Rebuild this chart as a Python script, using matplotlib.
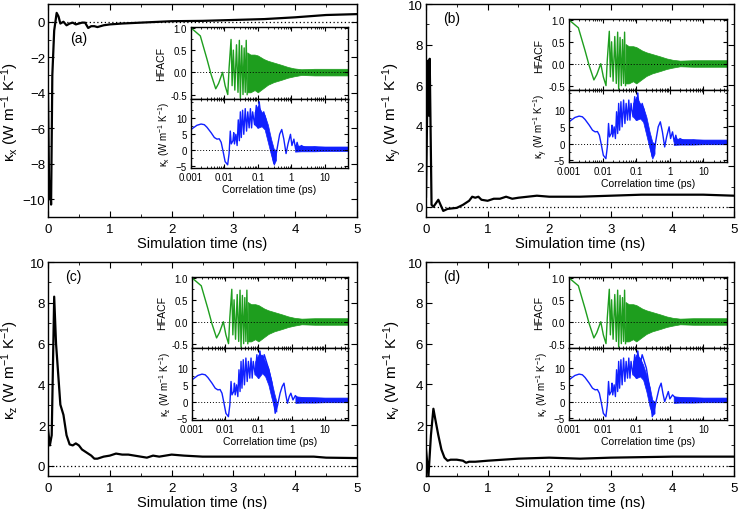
import numpy as np
import matplotlib.pyplot as plt
from matplotlib.ticker import MultipleLocator, LogLocator, NullFormatter, FixedLocator

plt.rcParams['font.family'] = ['Liberation Sans', 'DejaVu Sans']
plt.rcParams['mathtext.default'] = 'regular'

W, H = 740, 510

# ---------------- main curves: simulation time (ns) vs kappa ----------------
ta = [0.0, 0.02, 0.035, 0.05, 0.07, 0.1, 0.14, 0.17, 0.2, 0.25, 0.3, 0.35, 0.4, 0.45, 0.5,
      0.55, 0.6, 0.65, 0.7, 0.75, 0.8, 0.9, 1.0, 1.2, 1.5, 2.0, 2.5, 3.0, 3.5, 4.0, 4.5, 5.0]
ka = [-4.0, -10.0, -9.0, -10.3, -3.0, -0.5, 0.5, 0.3, -0.1, 0.0, -0.2, -0.1, -0.05, -0.15, -0.1,
      -0.05, -0.05, -0.35, -0.25, -0.25, -0.3, -0.2, -0.15, -0.1, -0.05, 0.03, 0.05, 0.1, 0.15, 0.25, 0.38, 0.43]

tb = [0.0, 0.03, 0.045, 0.06, 0.09, 0.12, 0.2, 0.28, 0.35, 0.5, 0.6, 0.7, 0.75, 0.8, 0.85, 0.9,
      1.0, 1.1, 1.2, 1.3, 1.4, 1.5, 1.8, 2.0, 2.5, 3.0, 3.5, 4.0, 4.5, 5.0]
kb = [0.5, 7.2, 4.5, 7.3, 0.1, 0.0, 0.35, -0.2, -0.1, -0.05, 0.1, 0.3, 0.5, 0.45, 0.5, 0.35,
      0.3, 0.4, 0.4, 0.5, 0.4, 0.45, 0.55, 0.5, 0.5, 0.55, 0.6, 0.6, 0.6, 0.55]

tc = [0.0, 0.03, 0.06, 0.1, 0.13, 0.2, 0.25, 0.3, 0.35, 0.4, 0.45, 0.5, 0.55, 0.6, 0.7, 0.75,
      0.8, 0.9, 1.0, 1.1, 1.2, 1.3, 1.4, 1.5, 1.6, 1.7, 1.8, 1.9, 2.0, 2.2, 2.5, 3.0, 3.5, 4.0, 4.3, 4.5, 5.0]
kc = [1.8, 1.0, 1.5, 8.3, 6.0, 3.0, 2.5, 1.5, 1.05, 1.0, 1.1, 1.0, 0.8, 0.7, 0.5, 0.35,
      0.35, 0.45, 0.5, 0.6, 0.55, 0.55, 0.5, 0.45, 0.4, 0.5, 0.45, 0.5, 0.55, 0.5, 0.45, 0.45, 0.45, 0.45, 0.45, 0.4, 0.38]

td = [0.0, 0.04, 0.08, 0.12, 0.15, 0.2, 0.25, 0.3, 0.35, 0.4, 0.5, 0.6, 0.65, 0.7, 0.8,
      1.0, 1.5, 2.0, 2.5, 3.0, 4.0, 5.0]
kd = [0.8, -0.5, 1.5, 2.8, 2.3, 1.5, 0.8, 0.4, 0.25, 0.3, 0.3, 0.25, 0.15, 0.2, 0.2,
      0.25, 0.35, 0.4, 0.35, 0.4, 0.45, 0.45]

# ---------------- inset: HFACF vs correlation time (ps) ----------------
hf_t = [0.001, 0.0019, 0.003, 0.004, 0.0055, 0.0067, 0.0088, 0.0105, 0.0126, 0.0138, 0.0158,
        0.017, 0.0185, 0.0205, 0.023, 0.0255, 0.028, 0.030, 0.033, 0.036, 0.039, 0.042, 0.045, 0.048]
hf_v = [1.0, 0.82, 0.3, -0.05, -0.37, -0.25, 0.0, -0.3, -0.5, 0.1, 0.74,
        -0.3, 0.5, -0.4, 0.62, -0.45, 0.72, -0.58, 0.6, -0.5, 0.55, -0.45, 0.72, -0.5]
hf_band_t = [0.048, 0.06, 0.08, 0.1, 0.15, 0.2, 0.3, 0.5, 0.8, 1.2, 2.0, 5.0, 10.0, 50.0]
hf_band_hi = [0.45, 0.4, 0.4, 0.38, 0.3, 0.26, 0.22, 0.17, 0.12, 0.09, 0.07, 0.08, 0.08, 0.08]
hf_band_lo = [-0.45, -0.45, -0.4, -0.45, -0.35, -0.28, -0.22, -0.17, -0.12, -0.09, -0.06, -0.07, -0.07, -0.07]

# ---------------- inset: running kappa vs correlation time (ps) ----------------
ke_t = [0.001, 0.0015, 0.002, 0.0025, 0.003, 0.004, 0.005, 0.006, 0.007, 0.008, 0.009, 0.0105,
        0.0125, 0.0138, 0.015, 0.016, 0.018, 0.019, 0.020, 0.022, 0.024, 0.026, 0.028, 0.030,
        0.032, 0.035, 0.038, 0.042, 0.046, 0.05, 0.055, 0.06, 0.065, 0.07, 0.08, 0.09, 0.10, 0.11]
ke_v = [6.5, 7.8, 8.2, 8.0, 7.2, 5.5, 4.0, 3.5, 3.6, 2.5, 0.0, -3.5,
        -4.5, -1.0, 6.0, 2.0, 3.0, 5.5, 2.0, 5.0, 1.5, 9.5, 3.0, 12.0,
        4.0, 12.5, 5.0, 13.0, 6.0, 12.0, 7.0, 13.0, 7.0, 12.0, 8.0, 14.0, 7.0, 15.0]

kab_t = [0.11, 0.13, 0.15, 0.17, 0.2, 0.25, 0.3, 0.35, 0.4, 0.45, 0.52, 0.6, 0.7, 0.8, 0.95,
         1.05, 1.2, 1.35, 1.5, 1.7, 2.0, 3.0, 5.0, 10.0, 50.0]
kab_v = [15.0, 9.0, 12.0, 10.0, 6.0, 1.0, -4.0, -1.5, 2.0, 5.0, 6.5, 3.5, -1.0, 2.0, 5.0,
         1.5, 3.5, 0.5, 2.5, 0.3, 1.5, 0.5, 1.0, 0.5, 0.5]
kab_band_t = [0.08, 0.1, 0.13, 0.16, 0.2, 0.25, 0.3, 0.35]
kab_band_hi = [12.0, 14.0, 12.0, 11.0, 8.0, 3.5, 0.5, 0.0]
kab_band_lo = [8.0, 7.0, 7.5, 6.5, 2.5, -1.5, -4.5, -3.0]

kc_t = [0.11, 0.13, 0.15, 0.2, 0.25, 0.32, 0.38, 0.45, 0.52, 0.59, 0.67, 0.75, 0.85, 0.95,
        1.1, 1.3, 1.6, 2.0, 5.0, 10.0, 50.0]
kc_v = [15.0, 11.0, 14.0, 10.0, 6.0, -3.5, -1.0, 2.5, 4.5, 5.5, 2.0, -0.5, 1.5, 2.5,
        0.5, 1.8, 0.8, 1.0, 0.6, 0.5, 0.5]
kc_band_t = [0.08, 0.1, 0.13, 0.16, 0.2, 0.25, 0.3, 0.35]
kc_band_hi = [12.0, 14.0, 14.0, 12.0, 10.0, 6.0, 2.5, 0.0]
kc_band_lo = [8.0, 7.0, 8.5, 7.5, 5.0, 1.0, -2.0, -3.0]

kd_t = [0.11, 0.13, 0.15, 0.2, 0.25, 0.3, 0.35, 0.42, 0.48, 0.55, 0.62, 0.7, 0.8, 0.9,
        1.0, 1.2, 1.5, 2.0, 5.0, 10.0, 50.0]
kd_v = [15.0, 11.0, 14.0, 10.0, 4.0, -4.5, -2.0, 1.5, 4.0, 5.5, 2.5, 0.0, 1.5, 3.0,
        0.8, 2.0, 1.0, 1.0, 0.7, 0.6, 0.6]
kd_band_t = [0.08, 0.1, 0.13, 0.16, 0.2, 0.25, 0.3, 0.35]
kd_band_hi = [12.0, 14.0, 13.0, 11.0, 8.0, 4.5, 0.5, 0.0]
kd_band_lo = [8.0, 7.0, 7.5, 6.5, 3.0, -1.5, -4.0, -3.5]

k_tail_t = [1.3, 2.0, 5.0, 10.0, 50.0]
k_tail_hi = [1.6, 1.4, 1.3, 1.2, 1.2]
k_tail_lo = [-0.4, -0.3, -0.3, -0.2, -0.2]

GREEN = '#1e9e1e'
BLUE = '#1020ff'


def box(l, t, r, b):
    return [l / W, 1 - b / H, (r - l) / W, (b - t) / H]


def style(ax, size, pad=2):
    ax.tick_params(which='both', direction='in', top=True, right=True, labelsize=size, pad=pad)
    ax.tick_params(which='major', length=4, width=0.8)
    ax.tick_params(which='minor', length=2, width=0.6)
    for s in ax.spines.values():
        s.set_linewidth(1.0)


def main_panel(rect, t, k, ylim, ymaj, lab, sub, labpos, ylx):
    ax = fig.add_axes(box(*rect))
    ax.plot(t, k, color='black', lw=1.6)
    ax.axhline(0, color='black', lw=0.9, ls=(0, (1, 2)))
    ax.set_xlim(0, 5)
    ax.set_ylim(*ylim)
    ax.xaxis.set_major_locator(MultipleLocator(1))
    ax.xaxis.set_minor_locator(MultipleLocator(0.5))
    ax.yaxis.set_major_locator(MultipleLocator(ymaj))
    ax.yaxis.set_minor_locator(MultipleLocator(ymaj / 2))
    style(ax, 9.5, pad=2)
    ax.tick_params(axis='x', pad=4)
    ax.set_xlabel('Simulation time (ns)', fontsize=10.5, labelpad=1)
    ax.set_ylabel(r'$\kappa_{%s}$ (W m$^{-1}$ K$^{-1}$)' % sub, fontsize=11)
    ax.yaxis.set_label_coords(ylx, 0.5)
    ax.text(labpos[0], labpos[1], lab, transform=ax.transAxes, fontsize=10)
    return ax


def inset(rect_top, rect_bot, sub, lt, lv, bt, bhi, blo):
    a1 = fig.add_axes(box(*rect_top))
    a1.plot(hf_t, hf_v, color=GREEN, lw=1.0)
    a1.fill_between(hf_band_t, hf_band_lo, hf_band_hi, color=GREEN, lw=0.5)
    a1.axhline(0, color='black', lw=0.7, ls=(0, (1, 2)))
    a1.set_xscale('log')
    a1.set_xlim(0.001, 50)
    a1.set_ylim(-0.6, 1.02)
    a1.yaxis.set_major_locator(FixedLocator([-0.5, 0.0, 0.5, 1.0]))
    a1.yaxis.set_minor_locator(MultipleLocator(0.25))
    a1.xaxis.set_major_locator(LogLocator(base=10, numticks=10))
    a1.xaxis.set_minor_locator(LogLocator(base=10, subs=np.arange(2, 10), numticks=10))
    a1.xaxis.set_major_formatter(NullFormatter())
    a1.xaxis.set_minor_formatter(NullFormatter())
    a1.yaxis.set_major_formatter(plt.FuncFormatter(lambda v, p: '%.1f' % v))
    style(a1, 7, pad=3)
    a1.tick_params(which='major', length=3)
    a1.tick_params(which='minor', length=1.5)
    a1.set_ylabel('HFACF', fontsize=7.5, labelpad=3)

    a2 = fig.add_axes(box(*rect_bot))
    a2.plot(ke_t, ke_v, color=BLUE, lw=1.0)
    a2.plot(lt, lv, color=BLUE, lw=1.0)
    a2.fill_between(bt, blo, bhi, color=BLUE, lw=0.5)
    a2.fill_between(k_tail_t, k_tail_lo, k_tail_hi, color=BLUE, lw=0.5)
    a2.axhline(0, color='black', lw=0.7, ls=(0, (1, 2)))
    a2.set_xscale('log')
    a2.set_xlim(0.001, 50)
    a2.set_ylim(-5.5, 16)
    a2.yaxis.set_major_locator(FixedLocator([-5, 0, 5, 10]))
    a2.yaxis.set_minor_locator(MultipleLocator(2.5))
    a2.xaxis.set_major_locator(LogLocator(base=10, numticks=10))
    a2.xaxis.set_minor_locator(LogLocator(base=10, subs=np.arange(2, 10), numticks=10))
    a2.xaxis.set_minor_formatter(NullFormatter())
    a2.xaxis.set_major_formatter(plt.FuncFormatter(lambda v, p: ('%g' % v)))
    style(a2, 7, pad=3)
    a2.tick_params(which='major', length=3)
    a2.tick_params(which='minor', length=1.5)
    a2.set_ylabel(r'$\kappa_{%s}$ (W m$^{-1}$ K$^{-1}$)' % sub, fontsize=7, labelpad=3)
    a2.set_xlabel('Correlation time (ps)', fontsize=7.5, labelpad=1)


fig = plt.figure(figsize=(7.4, 5.1), dpi=100)

main_panel((48, 5, 357, 218), ta, ka, (-11, 1), 2, '(a)', 'x', (0.07, 0.82), -0.087)
main_panel((426, 5, 734, 218), tb, kb, (-0.5, 10), 2, '(b)', 'y', (0.055, 0.915), -0.075)
main_panel((48, 263, 357, 477), tc, kc, (-0.5, 10), 2, '(c)', 'z', (0.055, 0.915), -0.087)
main_panel((426, 263, 734, 477), td, kd, (-0.5, 10), 2, '(d)', 'v', (0.055, 0.915), -0.075)

inset((191, 28, 348, 100), (191, 100, 348, 169), 'x', kab_t, kab_v, kab_band_t, kab_band_hi, kab_band_lo)
inset((569, 20, 727, 91), (569, 91, 727, 163), 'y', kab_t, kab_v, kab_band_t, kab_band_hi, kab_band_lo)
inset((192, 278, 348, 349), (192, 349, 348, 421), 'z', kc_t, kc_v, kc_band_t, kc_band_hi, kc_band_lo)
inset((569, 278, 727, 349), (569, 349, 727, 421), 'v', kd_t, kd_v, kd_band_t, kd_band_hi, kd_band_lo)

fig.savefig('out.png', dpi=100)
